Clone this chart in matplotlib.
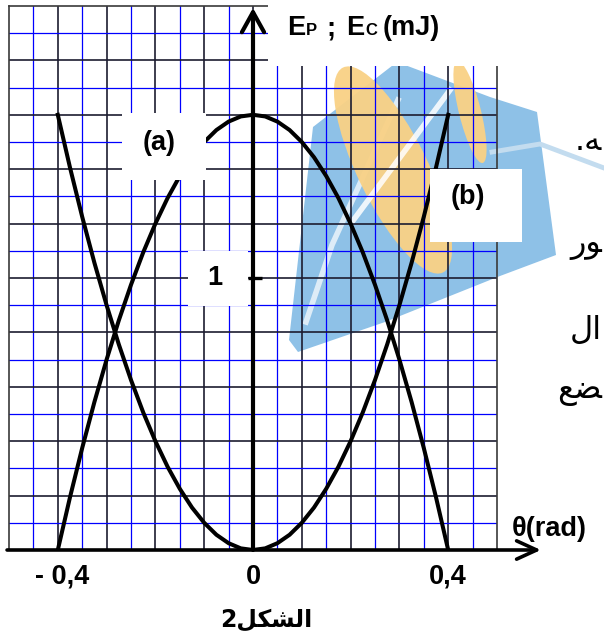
import matplotlib
matplotlib.use("Agg")
import matplotlib.pyplot as plt
from matplotlib.patches import Rectangle, Polygon, Ellipse
from matplotlib.lines import Line2D
from matplotlib.transforms import Affine2D, blended_transform_factory

# angle theta (rad) and the two energies (mJ)
theta = [-0.4, -0.375, -0.35, -0.325, -0.3, -0.275, -0.25, -0.225, -0.2,
         -0.175, -0.15, -0.125, -0.1, -0.075, -0.05, -0.025, 0.0,
         0.025, 0.05, 0.075, 0.1, 0.125, 0.15, 0.175, 0.2,
         0.225, 0.25, 0.275, 0.3, 0.325, 0.35, 0.375, 0.4]
e_up = [1.6, 1.406, 1.225, 1.056, 0.9, 0.756, 0.625, 0.506, 0.4,
        0.306, 0.225, 0.156, 0.1, 0.056, 0.025, 0.006, 0.0,
        0.006, 0.025, 0.056, 0.1, 0.156, 0.225, 0.306, 0.4,
        0.506, 0.625, 0.756, 0.9, 1.056, 1.225, 1.406, 1.6]
e_down = [0.0, 0.194, 0.375, 0.544, 0.7, 0.844, 0.975, 1.094, 1.2,
          1.294, 1.375, 1.444, 1.5, 1.544, 1.575, 1.594, 1.6,
          1.594, 1.575, 1.544, 1.5, 1.444, 1.375, 1.294, 1.2,
          1.094, 0.975, 0.844, 0.7, 0.544, 0.375, 0.194, 0.0]

x_ticks = [-0.4, 0.0, 0.4]
x_tick_labels = ["- 0,4", "0", "0,4"]
y_tick = 1.0
y_tick_label = "1"

W, H = 604, 638
fig = plt.figure(figsize=(W / 100, H / 100), dpi=100)
ax = fig.add_axes([9 / W, 88 / H, 488 / W, 544 / H])
ax.set_xlim(-0.5, 0.5)
ax.set_ylim(0, 2.0)
ax.set_xticks([])
ax.set_yticks([])

# pixel coords of the picture (origin top-left), for decorations and labels
img = Affine2D().scale(1 / W, -1 / H).translate(0, 1) + fig.transFigure
x_img = blended_transform_factory(ax.transData, img)

# grid paper: black every 2 cells, blue in between
for i in range(-9, 10):
    major = i % 2 == 0
    ax.axvline(i * 0.05, color="#1c1c30" if major else "#0000ff",
               lw=1.2 if major else 0.9, zorder=0.5)
for j in range(1, 20):
    major = j % 2 == 0
    ax.axhline(j * 0.1, color="#1c1c30" if major else "#0000ff",
               lw=1.2 if major else 0.9, zorder=0.5)
for side in ["left", "top", "right"]:
    ax.spines[side].set_color("#3a3a3a")
    ax.spines[side].set_linewidth(1.2)
ax.spines["bottom"].set_visible(False)

# faded logo in the background
logo = dict(transform=img, clip_on=False, ec="none")
ax.add_patch(Polygon([(313, 127), (397, 62), (490, 97), (537, 112), (556, 255),
                      (500, 276), (385, 322), (298, 352), (289, 340)],
                     closed=True, fc="#7ab6e3", alpha=0.85, zorder=0.2, **logo))
ax.add_line(Line2D([306, 332, 398], [322, 245, 100], color="white", lw=4,
                   alpha=0.7, transform=img, clip_on=False, zorder=0.25))
ax.add_patch(Ellipse((393, 170), 228, 70, angle=64, fc="#f9d185", alpha=0.95,
                     zorder=0.3, **logo))
ax.add_patch(Ellipse((470, 112), 105, 22, angle=76, fc="#f9d185", alpha=0.95,
                     zorder=0.3, **logo))
ax.add_line(Line2D([352, 450], [222, 90], color="white", lw=4, alpha=0.85,
                   transform=img, clip_on=False, zorder=0.35))
ax.add_line(Line2D([492, 540, 604], [152, 144, 168], color="#c3dcef", lw=3.5,
                   transform=img, clip_on=False, zorder=0.35))

# curves
ax.plot(theta, e_up, color="black", lw=2.9, solid_joinstyle="round", zorder=3)
ax.plot(theta, e_down, color="black", lw=2.9, solid_joinstyle="round", zorder=3)

# white label boxes
for x0, y0, w, h in [(268, 0, 250, 66), (122, 113, 84, 67), (430, 169, 92, 73),
                     (188, 251, 60, 55)]:
    ax.add_patch(Rectangle((x0, y0), w, h, fc="white", ec="none",
                           transform=img, clip_on=False, zorder=4))

# axes with arrows
ax.annotate("", xy=(0.59, 0), xytext=(-0.504, 0), annotation_clip=False,
            arrowprops=dict(arrowstyle="->,head_length=0.72,head_width=0.33",
                            mutation_scale=20, lw=2.6, color="black",
                            shrinkA=0, shrinkB=0), zorder=5)
ax.annotate("", xy=(0, 1.993), xytext=(0, 0), annotation_clip=False,
            arrowprops=dict(arrowstyle="->,head_length=0.72,head_width=0.4",
                            mutation_scale=20, lw=3.0, color="black",
                            shrinkA=0, shrinkB=0), zorder=5)
ax.plot([-0.01, 0.018], [y_tick, y_tick], color="black", lw=2.4,
        solid_capstyle="butt", zorder=5, clip_on=False)

bold = dict(family="Liberation Sans", weight="bold", color="black")
big = 19.5

for xt, lab in zip(x_ticks, x_tick_labels):
    ax.text(xt + (0.008 if xt < 0 else 0.0), 577, lab, transform=x_img,
            fontsize=big, ha="center", va="center", zorder=6, **bold)
ax.text(215, 278, y_tick_label, transform=img, fontsize=big, ha="center",
        va="center", zorder=6, **bold)
ax.text(159, 143, "(a)", transform=img, fontsize=big, ha="center",
        va="center", zorder=6, **bold)
ax.text(468, 197, "(b)", transform=img, fontsize=big, ha="center",
        va="center", zorder=6, **bold)
ax.text(512, 529, "\u03b8(rad)", transform=img, fontsize=big, ha="left",
        va="center", zorder=6, **bold)

# y label: E_P ; E_C (mJ) with small letters on the baseline
for x0, s, fs in [(287, "E", big), (306, "P", 12), (326, ";", big),
                  (346, "E", big), (365, "C", 12), (383, "(mJ)", big)]:
    ax.text(x0, 35, s, transform=img, fontsize=fs, ha="left", va="baseline",
            zorder=6, **bold)

# caption "الشكل2" (shaped by hand, visual order)
ax.text(266, 620, "2\ufede\ufedc\ufeb8\ufedf\ufe8d", transform=img,
        fontsize=17, ha="center", va="center", family="DejaVu Sans",
        weight="bold", zorder=6)

# bits of the neighbouring Arabic paragraph at the right edge
for y0, s in [(141, ".\ufeea"), (244, "\ufead\ufeee"),
              (330, "\ufedd\ufe8d"), (391, "\ufeca\ufec0")]:
    ax.text(602, y0, s, transform=img, fontsize=23, ha="right", va="center",
            family="DejaVu Sans", color="black", zorder=6)

fig.savefig("out.png", dpi=100)
